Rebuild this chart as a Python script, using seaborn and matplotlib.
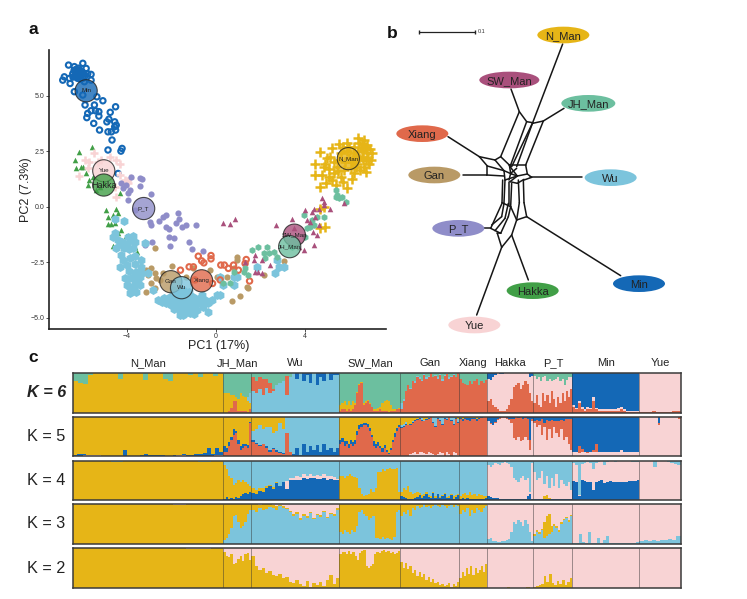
import numpy as np
import pandas as pd
import matplotlib
matplotlib.use("Agg")
import matplotlib.pyplot as plt
from matplotlib.patches import Ellipse
import seaborn as sns

# population colours
COL = {"N_Man": "#E6B517", "SW_Man": "#A9507C", "JH_Man": "#6CBF9F", "Xiang": "#E0694B",
       "Gan": "#B99A66", "Wu": "#7CC4DC", "P_T": "#8F8DC9", "Hakka": "#419F47",
       "Min": "#1468B6", "Yue": "#F8D3D4"}
yellow, green, light, dark, red, pink = COL["N_Man"], COL["JH_Man"], COL["Wu"], COL["Min"], COL["Xiang"], COL["Yue"]

# PCA samples (PC1, PC2)
min_pc = [(-6.6,6.39),(-5.96,6.47),(-6.34,6.32),(-5.74,6.0),(-5.59,5.97),(-6.86,5.71),(-6.79,5.86),(-6.53,5.56),
          (-6.26,5.86),(-6.11,6.17),(-6.41,6.0),(-6.19,5.79),(-6.56,5.79),(-6.04,5.94),(-5.81,6.24),(-5.59,5.71),
          (-5.89,5.64),(-6.3,6.1),(-6.2,6.0),(-6.1,5.9),(-6.0,6.1),(-6.4,5.85),(-6.15,6.25),(-6.25,6.2),(-6.05,5.75),
          (-5.95,5.8),(-6.25,6.05),(-6.15,5.95),(-6.05,6.0),(-6.2,5.9),(-6.3,5.95),(-6.1,6.1),(-6.0,5.95),(-5.9,6.0),
          (-6.35,6.15),(-5.85,5.9),(-6.34,5.19),(-5.96,5.04),(-5.33,4.96),(-5.06,4.78),(-5.86,4.59),(-5.44,4.59),(-5.74,4.21),
          (-5.59,4.33),(-5.39,4.33),(-5.24,4.29),(-5.24,4.09),(-5.78,4.02),(-4.73,4.26),(-4.49,4.51),(-4.79,3.95),
          (-4.88,3.83),(-4.53,3.83),(-4.46,3.68),(-5.47,3.76),(-5.21,3.46),(-4.83,3.38),(-4.68,3.38),(-4.49,3.46),
          (-4.53,3.61),(-4.65,3.01),(-4.83,2.56),(-4.2,2.63),(-4.25,2.51),(-4.38,1.5)]
n_man_pc = [(5.53,2.83),(5.9,2.86),(6.38,3.08),(6.8,2.78),(7.03,2.41),(6.95,2.1),(6.65,1.8),(6.73,1.58),(4.7,2.48),
            (4.47,1.92),(4.92,1.95),(4.44,1.43),(4.77,1.43),(4.7,.87),(5.38,.98),(5.9,.83),(5.15,2.26),(5.45,1.8),
            (5.08,1.35),(5.6,1.35),(6.2,1.5),(6.2,2.7),(6.5,2.63),(6.58,2.26),(6.8,2.41),(6.43,2.86),(6.65,3.0),
            (6.35,1.95),(5.3,1.5),(4.85,1.8),(5.75,1.65),(6.05,1.73),(5.23,2.63),(6.88,1.95),(6.47,1.65),(6.2,2.41),
            (6.73,2.1),(6.43,2.18),(5.6,2.41),(5.9,2.5),(6.0,2.2),(6.2,2.1),(6.3,2.3),(6.4,2.5),(6.6,2.5),(6.7,2.7),
            (6.6,2.1),(6.3,1.8),(6.1,2.0),(5.8,2.0),(5.5,2.1),(5.3,2.0),(5.1,1.7),(5.0,2.2),(5.7,2.7),(6.0,2.7),
            (6.55,2.85),(6.85,2.2),(5.5,1.6),(5.2,1.2),(4.95,1.05),(5.7,1.1),(6.1,1.25),(6.9,2.6),
            (4.7,-.98),(4.92,-.9),(4.7,-.08),(4.85,0.0)]
hakka_pc = [(-6.11,2.45),(-5.54,2.69),(-6.29,2.1),(-5.96,1.8),(-6.26,1.73),(-5.66,1.2),(-5.74,.98),(-5.36,.75),
            (-4.91,-.15),(-4.61,-.38),(-4.46,-.08),(-4.38,-.3),(-4.83,-.78),(-4.53,-.75),(-4.23,-1.05),(-4.04,-1.32),
            (-4.61,-1.77),(-4.16,-1.8),(-3.63,-1.8),(-3.53,-2.03),(-4.38,-1.2),(-5.81,1.5),(-5.51,1.35),(-5.21,.9),
            (-5.0,1.05),(-4.83,-.45),(-4.68,-.78),(-6.04,1.8),(-4.31,.6)]
yue_pc = [(-6.11,1.4),(-5.84,2.1),(-5.44,2.43),(-5.14,2.1),(-4.46,2.1),(-4.46,.45),(-5.66,2.03),(-5.29,2.03),
          (-4.76,2.26),(-4.31,1.95),(-4.08,1.2),(-4.31,1.43),(-3.93,1.05),(-3.86,1.28),(-4.53,.9),(-5.74,1.73)]
p_t_pc = [(-4.23,1.05),(-4.04,.98),(-3.78,1.35),(-3.38,1.28),(-3.29,1.23),(-3.41,.95),(-3.93,.6),(-3.86,.75),(-3.93,.3),
          (-2.91,.57),(-4.16,.83),(-3.63,-.15),(-2.21,-.35),(-2.36,-.45),(-2.54,-.65),(-1.68,-.3),(-1.64,-.53),
          (-2.88,-.83),(-2.96,-.68),(-2.21,-.9),(-2.09,-1.02),(-1.76,-.75),(-1.5,-.93),(-1.35,-.83),(-.89,-.81),
          (-2.1,-1.35),(-1.86,-1.43),(-2.03,-1.76),(-1.19,-1.58),(-1.08,-1.92),(-.59,-1.98),(-3.14,-1.62),(-2.84,-1.58),
          (-3.18,-1.73)]
gan_pc = [(-3.11,-2.86),(-2.73,-3.0),(-2.88,-2.78),(-2.5,-3.3),(-3.11,-3.83),(-2.73,-3.68),(-1.98,-2.68),(-2.73,-1.88),
          (-1.31,-3.16),(-.26,-2.86),(.05,-3.16),(.95,-2.26),(.95,-2.41),(.8,-2.78),(.72,-4.24),(1.1,-4.03),(1.47,-3.68),
          (1.4,-3.6),(2.15,-3.08),(3.05,-2.44),(-3.03,-3.08),(-2.66,-3.23),(-2.88,-3.46),(-2.36,-3.0),(.5,-3.16),(-1.0,-2.78)]
wu_pc = [(-4.53,-.56),(-4.11,-.65),(-4.6,-1.35),(-4.4,-1.5),(-4.2,-1.6),(-4.0,-1.7),(-3.8,-1.5),(-3.7,-1.3),(-3.6,-1.6),
         (-3.9,-1.9),(-4.1,-1.85),(-4.3,-1.7),(-3.7,-1.85),(-3.18,-1.65),(-4.23,-2.18),(-3.86,-2.33),(-3.33,-2.4),
         (-4.31,-2.7),(-4.0,-2.63),(-3.63,-2.56),(-3.33,-2.7),(-4.08,-3.23),(-3.71,-3.16),(-3.41,-3.16),(-3.56,-2.93),
         (-3.03,-3.0),(-4.0,-3.53),(-3.63,-3.46),(-3.41,-3.53),(-3.78,-3.76),(-3.86,-3.9),(-3.56,-3.83),(-2.81,-3.76),
         (-2.43,-4.29),(-2.21,-4.36),(-1.91,-3.76),(-1.83,-4.36),(-1.61,-4.66),(-1.61,-4.89),(-1.38,-4.51),(-1.16,-4.81),
         (-.86,-4.66),(-.86,-4.36),(-.56,-4.51),(-.33,-4.74),(-.33,-4.36),(-.18,-4.21),(-1.31,-4.06),(-1.0,-4.06),
         (-.63,-3.98),(-1.46,-3.76),(-1.76,-4.06),(-1.23,-4.51),(-1.0,-4.36),(-1.61,-4.29),(-2.06,-4.06),(.05,-3.98),
         (.2,-3.98),(.8,-3.16),(.95,-3.16),(1.85,-2.7),(2.75,-2.4),(2.82,-2.7),(3.05,-2.7),(2.67,-3.0),(.8,-3.53),
         (.2,-3.16),(.35,-3.53),(-1.9,-4.2),(-1.7,-4.45),(-1.5,-4.6),(-1.4,-4.2),(-1.2,-4.25),(-1.1,-4.6),(-1.0,-4.55),
         (-.8,-4.15),(-.7,-4.35),(-.5,-4.2),(-1.3,-4.75),(-1.45,-4.9),(-1.85,-4.6),(-2.0,-4.45),(-1.55,-3.95),(-1.2,-3.85),
         (-1.7,-3.9),(-.95,-4.85),(-3.95,-3.25),(-3.85,-3.6),(-3.5,-3.3),(-3.3,-3.0),(-3.9,-2.9),(-4.15,-2.4),(-3.6,-2.2),
         (-4.45,-1.85),(-4.5,-1.2),(-3.95,-1.35),(-2.6,-4.2),(-2.3,-4.1),(-3.65,-3.65)]
xiang_pc = [(-.21,-2.2),(-.78,-2.23),(-.63,-2.44),(-.53,-2.53),(-.21,-2.35),(-1.58,-2.86),(-1.19,-2.71),(-1.0,-2.71),
            (.23,-2.63),(.39,-2.63),(.57,-2.78),(.8,-2.63),(1.02,-2.86),(1.37,-2.38),(1.32,-2.56),(1.52,-3.35),(.2,-3.3),
            (-.14,-3.46),(-.93,-3.3)]
jh_man_pc = [(1.92,-1.8),(1.62,-1.95),(2.3,-1.8),(2.37,-2.1),(2.15,-2.1),(2.22,-2.33),(2.6,-2.03),(2.75,-2.26),(.8,-2.93),
             (1.32,-2.78),(1.28,-2.93),(1.47,-3.08),(.35,-3.46),(.65,-3.46),(3.95,-.38),(4.32,-.6),(4.4,-.83),(4.25,-.9),
             (4.1,-.98),(4.88,-.45),(4.55,-.45),(5.38,.75),(5.45,.53),(5.53,.38),(5.68,.45),(5.38,.45),(5.83,.23),
             (4.02,-1.35),(3.42,-1.8)]
sw_man_pc = [(.35,-.75),(.65,-.78),(.87,-.53),(2.72,-.83),(3.42,-.53),(4.02,-.15),(4.4,-.08),(4.62,-.08),(4.77,.38),
             (4.85,.23),(5.15,-.08),(5.75,.15),(4.47,-.45),(4.1,-.6),(4.25,-.68),(4.62,-.83),(4.37,-1.13),(4.55,-1.28),
             (4.4,-1.73),(3.95,-1.95),(3.72,-1.8),(1.7,-2.4),(1.77,-2.18),(2.1,-2.4),(2.45,-2.63),(1.77,-2.93),(1.92,-2.93),
             (2.07,-3.0),(1.32,-2.48),(4.32,-.23),(4.85,.08),(3.5,-.98)]

# group means on the PCA
centroid_names = ["Min", "Yue", "Hakka", "P_T", "N_Man", "SW_Man", "JH_Man", "Gan", "Wu", "Xiang"]
centroid_pc1 = [-5.81, -5.02, -5.02, -3.23, 5.95, 3.53, 3.32, -2.01, -1.53, -.63]
centroid_pc2 = [5.23, 1.62, .98, -.08, 2.17, -1.28, -1.8, -3.38, -3.65, -3.34]

# network nodes and splits
node_names = ["N_Man", "SW_Man", "JH_Man", "Xiang", "Gan", "Wu", "P_T", "Hakka", "Min", "Yue"]
node_x = [550, 388, 625, 127, 163, 692, 235, 458, 777, 283]
node_y = [45, 180, 250, 341, 465, 473, 625, 812, 791, 915]
net_edges = [((548,72),(458,308)), ((458,308),(395,440)), ((393,207),(418,275)), ((418,275),(440,305)), ((440,305),(458,308)),
             ((418,275),(362,410)), ((552,265),(490,303)), ((490,303),(458,310)), ((490,303),(437,435)), ((458,308),(410,440)),
             ((440,305),(390,440)), ((204,350),(298,410)), ((298,410),(322,438)), ((298,410),(345,420)), ((345,420),(362,410)),
             ((345,420),(372,452)), ((362,410),(388,435)), ((248,465),(320,465)), ((320,438),(320,465)), ((320,465),(372,468)),
             ((322,438),(372,452)), ((607,472),(450,472)), ((437,435),(442,462)), ((442,462),(455,472)), ((388,435),(437,435)),
             ((442,462),(412,468)), ((372,452),(375,480)), ((388,435),(392,460)), ((392,460),(410,445)), ((390,440),(412,468)),
             ((372,452),(395,462)), ((395,462),(412,468)), ((412,468),(390,485)), ((390,485),(412,490)), ((412,490),(432,478)),
             ((368,480),(366,548)), ((375,480),(372,548)), ((388,485),(388,555)), ((395,490),(392,560)), ((415,480),(418,548)),
             ((430,480),(432,548)), ((375,480),(412,468)), ((455,472),(432,480)), ((392,460),(387,480)), ((312,625),(332,625)),
             ((332,625),(366,550)), ((332,625),(362,640)), ((362,640),(385,590)), ((345,632),(375,595)), ((375,595),(385,550)),
             ((335,615),(365,590)), ((365,590),(372,550)), ((352,640),(365,682)), ((365,682),(395,645)), ((445,780),(395,645)),
             ((290,885),(365,682)), ((722,767),(440,590)), ((440,590),(432,548)), ((440,590),(410,600)), ((410,600),(418,548)),
             ((410,600),(392,560)), ((410,600),(395,645)), ((385,590),(392,560)), ((366,548),(392,560)), ((362,640),(352,640))]

# ADMIXTURE, one list per group for each layer: upper edge of the layer along the samples
groups = ["N_Man", "JH_Man", "Wu", "SW_Man", "Gan", "Xiang", "Hakka", "P_T", "Min", "Yue"]
group_sizes = [150, 28, 88, 61, 59, 28, 46, 39, 67, 41]

k2_yellow = [[1,1,.99,1,1,1,1,1,1,.98,.97,1],
             [.9,.8,.78,.85,.6,.62,.72,.8,.68,.85,.88,.7],
             [.8,.55,.45,.5,.38,.42,.33,.3,.35,.25,.28,.15,.12,.2,.1,.05,.17,.04,.12,.08,.15,.05,.2,.33,.1,.25],
             [.85,.9,.9,.85,.92,.85,.9,.8,.7,.88,.92,.95,.55,.5,.55,.6,.85,.9,.88,.92,.95,.9,.92,.88,.9,.85,.88,.92],
             [.65,.5,.62,.48,.55,.38,.45,.3,.4,.28,.35,.2,.28,.15,.22,.12,.15,.08,.1,.05,.08,.12,.04,.1,.06,.15],
             [.25,.4,.3,.5,.35,.55,.32,.5,.38,.45,.55,.4,.6],
             [0,0,0,0,0,.03,0,0,0,0,.02,0],
             [.02,.05,.08,.1,.3,.15,.35,.12,.08,.18,.1,.2,.08,.15,.25],
             [0], [0]]

k3_yellow = [[1,1,.99,1,1,1,1,1,.98,.99,1,1],
             [1],
             [1,1,.98,1,1,1,.98,.95,.98,.95,.9,.82,.75,.8,.65,.75,.7,.8,.65,.75,.72,.82,.68,.78,.75,.9],
             [1], [1], [1], [0],
             [.25,.35,.3,.38,.55,.7,.75,.45,.5,.45,.35,.55,.62,.68,.6,.72],
             [0], [0]]
k3_blue = [[0],
           [.1,.15,.25,.4,.7,.72,.55,.4,.45,.55,.75,.85],
           [.85,.8,.9,.85,.88,.92,.9,.85,.95,.9,.88,.8,.7,.75,.6,.7,.65,.78,.62,.72,.68,.8,.65,.75,.7,.85],
           [.3,.25,.35,.3,.25,.35,.3,.45,.8,.85,.75,.7,.6,.65,.7,.15,.15,.12,.18,.12,.15,.12,.1,.18,.8,.85],
           [.7,.8,.75,.85,.7,.9,.85,.95,.9,.92,1,.92,.95,.9,.95,1,.95,.92,.98,.95,.9,.95,.97,.92,.98,.95],
           [.75,.85,.8,.9,.7,.85,.78,.9,.85,.8,.9,.95],
           [.12,.15,.08,.07,.06,.06,.07,.08,.1,.12,.3,.55,.5,.6,.55,.45,.6,.5,.3,.08],
           [.2,.3,.25,.35,.15,.2,.25,.3,.45,.4,.3,.5,.6,.65,.55,.7],
           [.03,.02,.25,.05,.02,.3,.02,.02,.15,.02,.1,.2,.02,.02,.02,.02,.02,.02,.02,.03,.02,.05],
           [.08,.09,.08,.09,.08,.1,.09,.12,.1,.2]]

k4_dark = [[0],
           [.02,.08,.03,.05,.02,.08,.05,.1,.14,.18,.15,.2],
           [.18,.15,.22,.2,.3,.35,.28,.42,.35,.45,.28,.5,.5,.52,.52,.55,.53,.55,.55,.54,.53,.55,.52,.53,.52,.5],
           [0],
           [.1,.08,.04,.03,.02,.02,.05,.08,.12,.05,.1,.15,.08,.05,.18,.06,.14,.04,.1,.16,.05,.06,.12,.03,.08,.12],
           [.02,.04,.02,.05,.02,.03,.02,.02,.03,.02,.02,.06],
           [.1,.08,.06,.05,.04,.03,.03,.02,.02,.02,.02,.02,.02,.02,.02,.02,.02,.1,.15,.03],
           [.03,.02,.02,.03,.02,.02,.03,.02,.02,.02,.02,.02,.02,.03,.02,.02],
           [.48,.45,.1,.5,.48,.47,.45,.25,.45,.48,.5,.42,.47,.48,.45,.47,.45,.47,.46,.47,.48,.48,.49,.5],
           [0]]
k4_yellow = [[1,1,1,.97,1,1,1,1,.99,1,.97,1],
             [.9,.8,.6,.55,.38,.42,.5,.45,.5,.45,.4,.35],
             [.3,.25,.3,.3,.36,.38,.32,.45,0,0,0,0,0,0,0,0,0,0,0,0,0,0,0,0,0,0],
             [.6,.62,.55,.6,.65,.62,.58,.55,.3,.15,.1,.12,.15,.28,.2,.3,.72,.7,.78,.75,.8,.82,.78,.8,.82,.2],
             [.2,.3,.25,.35,.2,.15,.18,.2,.18,.12,.14,.2,.12,.1,.2,.1,.16,.08,.12,.18,.08,.1,.14,.1,.12,.14],
             [.1,.14,.18,.12,.2,.12,.16,.1,.15,.12,.1,.1],
             [0],
             [0,0,0,.03,.1,.12,.05,0,0,0,0,0,0,0,0,0],
             [0], [0]]
k4_pink = [[0], [0],
           [0,0,0,0,0,0,0,0,0,0,.48,.55,.56,.62,.58,.65,.6,.66,.62,.64,.6,.66,.6,.62,.58,.54],
           [0], [0], [0],
           [.9,.85,.9,.95,.92,.9,.95,.97,.95,.92,.85,.55,.5,.45,.55,.6,.5,.55,.2,.95],
           [.7,.5,.55,.75,.4,.6,.3,.55,.35,.65,.3,.5,.4,.35,.45,.25],
           [.95,.9,.12,.92,.95,.97,.95,.8,.95,.97,.98,.9,.97,1,.98,.97,1,.99,1,.99,.98,.97,.96,.97],
           [1,.98,.99,1,.85,.98,1,.99,.97,.95,.92,.9]]

k5_pink = [[.02,.04,.03,.02,0,0,.02,0,0,.01,0,.03,.02,.02,0,.03],
           [0], [0], [0],
           [0,0,0,0,.05,.08,.1,.05,.12,.1,.08,.06,.1,.08,.05,.03,.05,.1,.08,.02,.1,.05,.02,.12,.08,.03],
           [0],
           [.88,.82,.78,.85,.92,.95,.97,.97,.95,.92,.85,.45,.4,.48,.38,.42,.5,.4,.15,.9],
           [.85,.75,.8,.55,.75,.4,.7,.45,.75,.6,.5,.7,.4,.5,.3,.15],
           [.1,.1,.08,.1,.1,.08,.1,.1,.1,.1,.1,.1,.1,.12,.1,.1,.12,.15,.1,.1,.1,.1,.1,.1],
           [1,.98,1,1,1,1,1,1,1,.8,1,1,1,1,1,.99,1,1,.98,.95]]
k5_red = [[0],
          [.12,.1,.25,.4,.55,.6,.3,.15,.2,.25,.2,.85],
          [.35,.3,.25,.3,.2,.12,.18,.12,.08,.05,.58,.1,.02,.02,.02,.02,.02,.02,.02,.02,.02,.02,.02,.02,.02,.02],
          [.3,.35,.25,.3,.2,.3,.25,.3,.55,.7,.75,.8,.78,.75,.65,.5,.25,.2,.25,.2,.12,.2,.1,.05,.15,.35,.5,.65,.75],
          [.72,.75,.8,.78,.8,.85,.9,.92,.95,.9,.88,.92,.95,1,.85,.75,.95,.9,.8,.95,.92,1,.9,.8,.95,.85],
          [.93,.9,.95,.92,.9,.95,.93,.9,.95,.97,.98,1],
          [.9,.84,.8,.86,.93,.96,.98,.98,.96,.94,.95,.95,.98,.96,.98,.95,.97,.95,.4,.95],
          [.9,.92,.88,.95,.85,.92,.9,.92,.88,.9,.9,.92,.9,.95,.93,.95],
          [.1,.12,.25,.18,.1,.12,.12,.15,.3,.12,.1,.1,.1,.12,.1,.1,.12,.15,.1,.1,.1,.1,.1,.1],
          [1,1,1,1,1,1,1,1,1,.85,1,1,1,1,1,1,1,1,1,1]]
k5_dark = [[.04,.05,.06,.04,.03,.02,.02,.02,.02,.02,.02,.02,.15,.02,.02,.02,.03,.05,.04,.03,.04,.03,.02,.02,.03,.03,.05,.03,.03,.05,.06,.08,.2,.05,.2,.1],
           [.25,.2,.35,.5,.68,.65,.4,.25,.3,.32,.28,.87],
           [.4,.33,.28,.32,.25,.15,.22,.15,.1,.08,.6,.12,.05,.2,.04,.3,.12,.25,.15,.28,.1,.3,.15,.2,.12,.2],
           [.42,.45,.38,.38,.32,.42,.35,.4,.65,.8,.82,.85,.85,.82,.72,.55,.38,.3,.35,.25,.2,.28,.15,.08,.2,.42,.58,.72,.8],
           [.74,.77,.82,.8,.81,.86,.91,.93,.96,.91,.89,.93,.96,1,.87,.77,.96,.91,.82,.96,.93,1,.91,.82,.96,.87],
           [.96,.95,.97,.96,.96,.97,.96,.95,.97,1,1,1],
           [1], [1], [1], [1]]
k5_light = [[0], [0],
            [.65,.7,.8,.7,.75,.75,.6,.65,.85,.7,1,1,1,1,1,1,1,1,1,1,1,1,1,1,1,1],
            [0],
            [.78,.82,.86,.8,.82,.88,.92,.95,.98,.96,.92,.95,1,1,1,1,1,1,1,1,1,1,1,1,.97,.95],
            [0], [0], [0], [0], [0]]

k6_red = [[0],
          [0,0,.05,.12,.3,.28,.05,.03,.05,.03,.02,.1],
          [0],
          [.05,.08,.1,.05,.08,.05,.1,.2,.5,.7,.75,.2,.25,.3,.22,.15,.05,.05,.03,.08,.05,.03,.05,.02,.04,.05,.05,.08,.1],
          [.1,.3,.55,.7,.6,.8,.75,.9,.85,.78,.95,.85,.9,1,.88,.92,.85,.95,.8,.92,.97,.85,.9,.95,.88,1],
          [.85,.75,.72,.7,.8,.72,.78,.85,.7,.8,.75,.82],
          [.3,.35,.2,.15,.1,.05,.04,.03,.1,.2,.35,.65,.7,.75,.6,.7,.8,.72,.5,.3],
          [.25,.45,.2,.15,.5,.3,.45,.25,.55,.35,.15,.4,.25,.5,.3,.55,.4,.6],
          [.15,.08,.25,.1,.05,.1,.08,.3,.08,.05,.05,.03,.03,.03,.03,.03,.05,.08,.03,.02,.01,.01,.01,.01],
          [.02,.02,.02,.03,.02,.02,.02,.02,.03,.05]]
k6_yellow = [[.8,.73,.72,.95,1,1,1,1,1,.85,1,1,1,1,.82,1,1,1,.85,.78,1,1,1,.95,1,.9,1,1,.92,1],
             [.5,.48,.5,.45,.45,.4,.35,.48,.42,.38,.3,.25],
             [0],
             [.2,.25,.28,.2,.3,.2,.3,.25,.52,.72,.76,.25,.28,.32,.25,.15,.1,.08,.12,.15,.25,.3,.32,.28,.2,.1,.08,.1,.12],
             [0], [0], [0], [0], [0], [0]]
k6_light = [[0],
            [0,0,0,0,0,0,0,0,0,0,.4,.5],
            [.55,.5,.6,.45,.62,.5,.55,.7,.75,.8,.45,.9,1,.85,1,.78,.95,.75,1,.7,.9,.8,1,.82,.95,.95],
            [0],
            [.25,.35,.55,.7,.62,.8,.78,.92,.88,.82,.96,.88,.92,1,.9,.94,.9,.97,.84,.94,.98,.88,.92,.96,.9,1],
            [0], [0], [0], [0], [0]]
k6_red_upper = [[0], [0],
                [.88,.8,.9,.85,.85,.75,.6,.7,.75,.8,.92,.9,0,0,0,0,0,0,0,0,0,0,0,0,0,0],
                [0], [0], [0], [0], [0], [0], [0]]
k6_pink = [[0], [0], [0], [0], [0], [0],
           [.85,.82,.9,.95,.98,.96,.97,1,1,1,1,1,1,1,1,1,1,1,.9,.92],
           [.92,.85,.9,.8,.88,.92,.8,.85,.78,.82,.85,.9,.8,.85,.7,.82,.88,.9],
           [.2,.12,.3,.15,.1,.15,.12,.4,.12,.1,.1,.08,.08,.08,.08,.08,.12,.15,.08,.05,.03,.03,.03,.03],
           [1]]
k6_dark = [[0], [0],
           [.88,.8,.9,.85,.85,.75,.6,.7,.75,.8,.92,.9,1,1,1,1,1,1,1,1,1,1,1,1,1,1],
           [0], [0], [0],
           [1], [0], [1], [1]]

sns.set_theme(style="white")
plt.rcParams["font.family"] = ["Liberation Sans", "DejaVu Sans"]

W, H = 747, 599
fig = plt.figure(figsize=(W / 100, H / 100), dpi=100)


def px_axes(x0, y0, x1, y1):
    # axes from a pixel box, y counted from the top
    return fig.add_axes([x0 / W, 1 - y1 / H, (x1 - x0) / W, (y1 - y0) / H])


# ---- panel a ----
ax = px_axes(48.7, 50, 386, 328.7)
pca_sets = [("Min", min_pc, "o", 15, "open"), ("N_Man", n_man_pc, "+", 60, "line"), ("Hakka", hakka_pc, "^", 16, "fill"),
            ("Yue", yue_pc, "+", 40, "line"), ("P_T", p_t_pc, "o", 20, "fill"), ("Gan", gan_pc, "o", 20, "fill"),
            ("Wu", wu_pc, "h", 42, "fill"), ("Xiang", xiang_pc, "o", 15, "open"), ("JH_Man", jh_man_pc, "h", 24, "fill"),
            ("SW_Man", sw_man_pc, "^", 16, "fill")]
for name, pts, marker, size, kind in pca_sets:
    d = pd.DataFrame(pts, columns=["PC1", "PC2"])
    if kind == "open":
        sns.scatterplot(data=d, x="PC1", y="PC2", ax=ax, marker=marker, s=size, facecolor="none",
                        edgecolor=COL[name], linewidth=1.5, legend=False, zorder=3)
    elif kind == "line":
        sns.scatterplot(data=d, x="PC1", y="PC2", ax=ax, marker=marker, s=size, color=COL[name],
                        linewidth=1.8, legend=False, zorder=3)
    else:
        sns.scatterplot(data=d, x="PC1", y="PC2", ax=ax, marker=marker, s=size, color=COL[name],
                        linewidth=0, legend=False, zorder=3)

cent = pd.DataFrame({"PC1": centroid_pc1, "PC2": centroid_pc2, "pop": centroid_names})
sns.scatterplot(data=cent, x="PC1", y="PC2", hue="pop", palette=COL, ax=ax, s=255, alpha=.8,
                edgecolor="#222222", linewidth=.8, legend=False, zorder=4)
for n, cx, cy in zip(centroid_names, centroid_pc1, centroid_pc2):
    ax.text(cx, cy, n, ha="center", va="center", fontsize=6.5 if n == "Hakka" else 4.5, color="#222222", zorder=5)

ax.set_xlim(-7.49, 7.64)
ax.set_ylim(-5.5, 7.07)
ax.set_xticks([-4, 0, 4])
ax.set_yticks([-5, -2.5, 0, 2.5, 5])
ax.set_yticklabels(["\u22125.0", "\u22122.5", "0.0", "2.5", "5.0"])
ax.set_xticklabels(["\u22124", "0", "4"])
ax.tick_params(labelsize=5, length=2, width=.6, pad=1, color="#333333", labelcolor="#333333", left=True, bottom=True)
ax.set_xlabel("PC1 (17%)", fontsize=9, color="#222222", va="center")
ax.set_ylabel("PC2 (7.3%)", fontsize=9, color="#222222", va="center")
ax.xaxis.set_label_coords(.505, -.062)
ax.yaxis.set_label_coords(-.067, .5)
sns.despine(ax=ax)
for s in ["left", "bottom"]:
    ax.spines[s].set_linewidth(1.2)
    ax.spines[s].set_color("#222222")
ax.patch.set_alpha(0)

# ---- panel b ----
bx = px_axes(380, 20, 680, 340)
bx.set_xlim(0, 900)
bx.set_ylim(960, 0)
bx.axis("off")
for p, q in net_edges:
    bx.plot([p[0], q[0]], [p[1], q[1]], color="#161616", lw=1.1, solid_capstyle="round")
for n, nx, ny in zip(node_names, node_x, node_y):
    wide = {"SW_Man": 180, "JH_Man": 162}.get(n, 156)
    bx.add_patch(Ellipse((nx, ny), wide, 50, facecolor=COL[n], edgecolor="none", zorder=3))
    bx.text(nx, ny, n, ha="center", va="center_baseline", fontsize=8, color="#222222", zorder=4)
bx.plot([117, 285], [37, 37], color="#222222", lw=.9, marker="|", ms=3)
bx.text(292, 35, "0.1", fontsize=4, va="center", color="#333333")

# ---- panel c ----
edges = np.cumsum([0] + group_sizes)
rows = [("K = 6", 372.7, 412.7, green, [(dark, k6_dark), (pink, k6_pink), (red, k6_red_upper), (light, k6_light),
                                         (yellow, k6_yellow), (red, k6_red)]),
        ("K = 5", 416.7, 456.3, yellow, [(light, k5_light), (dark, k5_dark), (red, k5_red), (pink, k5_pink)]),
        ("K = 4", 460.7, 500, light, [(pink, k4_pink), (yellow, k4_yellow), (dark, k4_dark)]),
        ("K = 3", 504, 544, pink, [(yellow, k3_yellow), (light, k3_blue)]),
        ("K = 2", 548, 588.3, pink, [(yellow, k2_yellow)])]
for i, (label, y0, y1, base, layers) in enumerate(rows):
    cx = px_axes(73.3, y0, 680.5, y1)
    cx.set_facecolor(base)
    for colour, layer in layers:
        for g, vals in enumerate(layer):
            e = np.linspace(edges[g], edges[g + 1], len(vals) + 1)
            cx.stairs(vals, e, baseline=0, fill=True, color=colour, linewidth=0)
    cx.vlines(edges[1:-1], 0, 1, color="#333333", lw=.6, alpha=.55)
    cx.set_xlim(0, edges[-1])
    cx.set_ylim(0, 1)
    cx.set_xticks([])
    cx.set_yticks([])
    for s in cx.spines.values():
        s.set_visible(True)
        s.set_linewidth(1.1)
        s.set_color("#3a3a3a")
    fig.text(46.5 / W, 1 - (y0 + y1) / 2 / H, label, ha="center", va="center", fontsize=11.7, color="#222222",
             fontweight="bold" if i == 0 else "normal", fontstyle="italic" if i == 0 else "normal")
    if i == 0:
        for g, n in enumerate(groups):
            cx.text((edges[g] + edges[g + 1]) / 2, 1.27, n, ha="center", va="center_baseline", fontsize=8, color="#222222")

fig.text(33 / W, 1 - 29 / H, "a", fontsize=12.5, fontweight="bold", ha="center", va="center", color="#111111")
fig.text(392 / W, 1 - 33 / H, "b", fontsize=12.5, fontweight="bold", ha="center", va="center", color="#111111")
fig.text(33 / W, 1 - 357 / H, "c", fontsize=12.5, fontweight="bold", ha="center", va="center", color="#111111")

fig.savefig("out.png", dpi=100)
